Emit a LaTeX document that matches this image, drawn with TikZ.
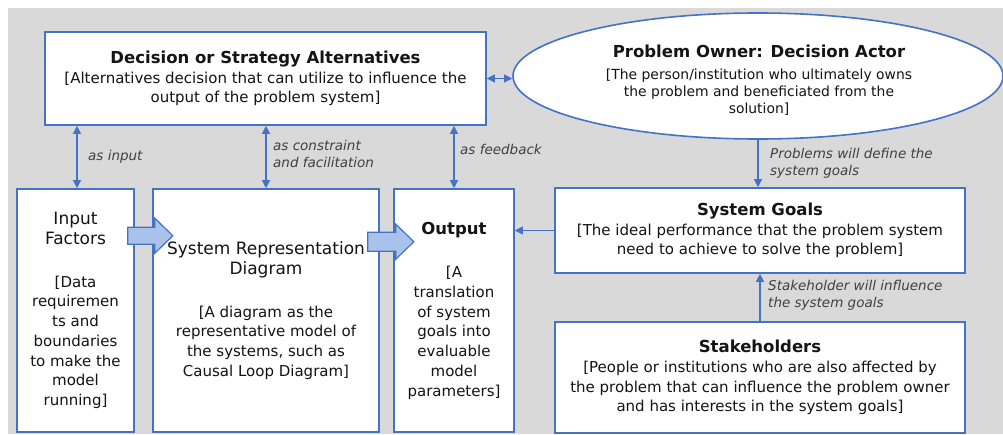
\documentclass[tikz,border=0pt]{standalone}
\usepackage{fontspec}
\setmainfont{DejaVu Sans}
\usetikzlibrary{arrows.meta,shapes.geometric,calc}
\definecolor{bord}{HTML}{4472C4}
\definecolor{bg}{HTML}{D9D9D9}
\definecolor{fatfill}{HTML}{A9C2EA}
\definecolor{lab}{HTML}{404040}
\definecolor{txt}{HTML}{141414}
\newcommand\bodyf{\fontsize{15}{19.7}\selectfont}
\newcommand\titlef{\fontsize{16.5}{20}\selectfont\bfseries}
\newcommand\bigf{\fontsize{17}{20}\selectfont}
\newcommand\ellf{\fontsize{13.9}{17}\selectfont}
\newcommand\labf{\fontsize{13.5}{17}\selectfont\itshape}
\begin{document}
\begin{tikzpicture}[x=1pt,y=-1pt,
  >={Triangle[length=8pt,width=8pt]},
  box/.style={draw=bord,line width=1.6pt,fill=white,rectangle,inner sep=0pt,align=center,text=txt,font=\bodyf},
  conn/.style={draw=bord,line width=1.2pt},
  lbl/.style={font=\labf,text=lab,align=left,inner sep=0pt,anchor=west},
  fat/.style={fill=fatfill,draw=bord,line width=1.2pt,line join=miter}]
\useasboundingbox (0,0) rectangle (1003,434);
\fill[bg] (8,8) rectangle (1003,434);

% top row
\node[box,minimum width=441pt,minimum height=93pt] (dsa) at (265.5,78.5)
  {{\titlef Decision or Strategy Alternatives}\\{[}Alternatives decision that can utilize to influence the\\output of the problem system]};
\node[ellipse,draw=bord,line width=1.6pt,fill=white,minimum width=490pt,minimum height=126pt,inner sep=0pt] (own) at (758,76) {};
\node[align=center,text=txt,font=\ellf,inner sep=0pt] (owntext) at (759,80.5)
  {{\titlef Problem Owner: Decision Actor}\\[5pt]{[}The person/institution who ultimately owns\\the problem and beneficiated from the\\solution]};

% lower row
\node[box,minimum width=117pt,minimum height=243pt] (ifb) at (75.5,310.5)
  {{\bigf Input}\\{\bigf Factors}\\[23pt]{[}Data\\requiremen\\ts and\\boundaries\\to make the\\model\\running]};
\node[box,minimum width=226pt,minimum height=243pt] (srd) at (266,310.5)
  {{\bigf System Representation}\\{\bigf Diagram}\\[23pt]{[}A diagram as the\\representative model of\\the systems, such as\\Causal Loop Diagram]};
\node[box,minimum width=120pt,minimum height=243pt] (out) at (454,310.5)
  {{\titlef Output}\\[24pt]{[}A\\translation\\of system\\goals into\\evaluable\\model\\parameters]};
\node[box,minimum width=410pt,minimum height=85pt] (sg) at (760,230.5)
  {{\titlef System Goals}\\{[}The ideal performance that the problem system\\need to achieve to solve the problem]};
\node[box,minimum width=410pt,minimum height=111pt] (sh) at (760,377.5)
  {{\titlef Stakeholders}\\{[}People or institutions who are also affected by\\the problem that can influence the problem owner\\and has interests in the system goals]};

% connectors
\path (ifb.north) ++(1.5,0) coordinate (ia);
\draw[conn,<->] (dsa.east) -- (dsa.east -| own.west);
\draw[conn,<->] (ia) -- (ia |- dsa.south);
\draw[conn,<->] (srd.north) -- (srd.north |- dsa.south);
\draw[conn,<->] (out.north) -- (out.north |- dsa.south);
\draw[conn,->] (sg.west) -- (sg.west -| out.east);
\draw[conn,->] (own.south) -- (own.south |- sg.north);
\draw[conn,->] (sh.north) -- (sg.south);

% labels
\node[lbl] (l1) at (88,157) {as input};
\node[lbl] (l2) at (273,153.5) {as constraint\\and facilitation};
\node[lbl] (l3) at (460,149) {as feedback};
\node[lbl] (l4) at (770,163.5) {Problems will define the\\system goals};
\node[lbl] (l5) at (768,295.5) {Stakeholder will influence\\the system goals};

% fat arrows
\path (ifb.north east) ++(-7,47.5) coordinate (fa1);
\filldraw[fat] (fa1) ++(0,-8.5) -- ++(27,0) -- ++(0,-9) -- ++(18,17.5) -- ++(-18,17.5) -- ++(0,-9) -- ++(-27,0) -- cycle;
\path (srd.north east) ++(-12,53.5) coordinate (fa2);
\filldraw[fat] (fa2) ++(0,-9.5) -- ++(28,0) -- ++(0,-8) -- ++(18,17.5) -- ++(-18,17.5) -- ++(0,-8) -- ++(-28,0) -- cycle;
\end{tikzpicture}
\end{document}
